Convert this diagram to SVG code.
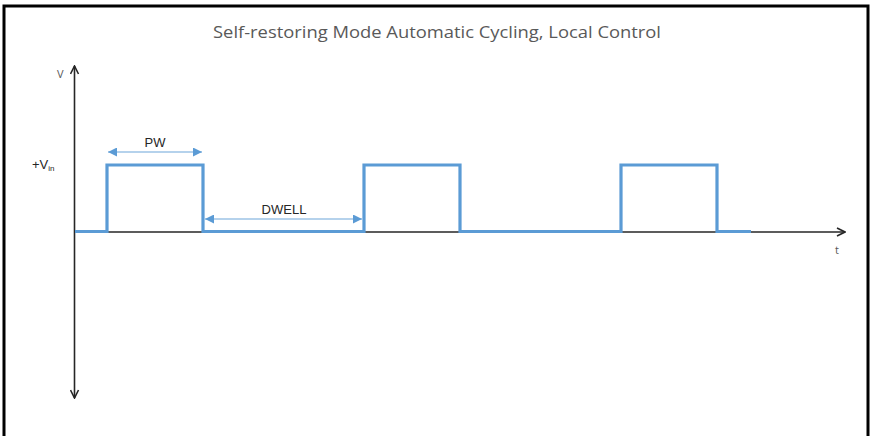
<svg xmlns="http://www.w3.org/2000/svg" width="871" height="436" viewBox="0 0 871 436">
  <style>
    .title { font-family: "Open Sans", "Noto Sans", sans-serif; font-size: 16px; fill: #595959; }
    .lbl { font-family: "Liberation Sans", Arial, sans-serif; font-size: 13px; fill: #262626; }
    .ax { font-family: "Open Sans", "Noto Sans", sans-serif; font-size: 11px; fill: #595959; }
    .axis { stroke: #262626; stroke-width: 1.6; fill: none; }
    .wave { stroke: #5b9bd5; stroke-width: 3.2; fill: none; stroke-linejoin: miter; }
    .dim { stroke: #9dc3e6; stroke-width: 1.4; fill: none; }
  </style>
  <defs>
    <marker id="open" viewBox="0 0 10 10" refX="9" refY="5" markerWidth="10" markerHeight="10" markerUnits="userSpaceOnUse" orient="auto-start-reverse">
      <path d="M1,1 L9,5 L1,9" fill="none" stroke="#262626" stroke-width="1.6"/>
    </marker>
    <marker id="tri" viewBox="0 0 10 10" refX="10" refY="5" markerWidth="10" markerHeight="9" markerUnits="userSpaceOnUse" orient="auto-start-reverse">
      <path d="M0,0 L10,5 L0,10 Z" fill="#5b9bd5"/>
    </marker>
  </defs>

  <rect x="0" y="0" width="871" height="436" fill="#ffffff"/>
  <!-- frame -->
  <path d="M4,440 V6 H868 V440" fill="none" stroke="#000000" stroke-width="3"/>

  <text class="title" x="437" y="38" text-anchor="middle" textLength="448" lengthAdjust="spacingAndGlyphs">Self-restoring Mode Automatic Cycling, Local Control</text>

  <g id="connectors">
    <!-- voltage axis -->
    <line class="axis" x1="74.5" y1="232" x2="74.5" y2="66" marker-end="url(#open)"/>
    <line class="axis" x1="74.5" y1="232" x2="74.5" y2="398" marker-end="url(#open)"/>
    <!-- time axis -->
    <line class="axis" x1="74.5" y1="232" x2="845" y2="232" marker-end="url(#open)"/>
    <!-- pulse train -->
    <path class="wave" d="M75,231.5 H107 V165 H203 V231.5 H364 V165 H460 V231.5 H621 V165 H717 V231.5 H751"/>
    <!-- dimension arrows -->
    <line class="dim" x1="108" y1="152" x2="202" y2="152" marker-start="url(#tri)" marker-end="url(#tri)"/>
    <line class="dim" x1="205" y1="219" x2="362" y2="219" marker-start="url(#tri)" marker-end="url(#tri)"/>
  </g>

  <g id="axis-labels">
    <text class="ax" x="57" y="78">V</text>
    <text class="ax" x="835" y="254">t</text>
    <text class="lbl" x="32" y="169">+V<tspan font-size="8" dy="2">in</tspan></text>
  </g>

  <g id="pw-label">
    <text class="lbl" x="155" y="147" text-anchor="middle">PW</text>
  </g>
  <g id="dwell-label">
    <text class="lbl" x="284" y="214" text-anchor="middle">DWELL</text>
  </g>
</svg>
